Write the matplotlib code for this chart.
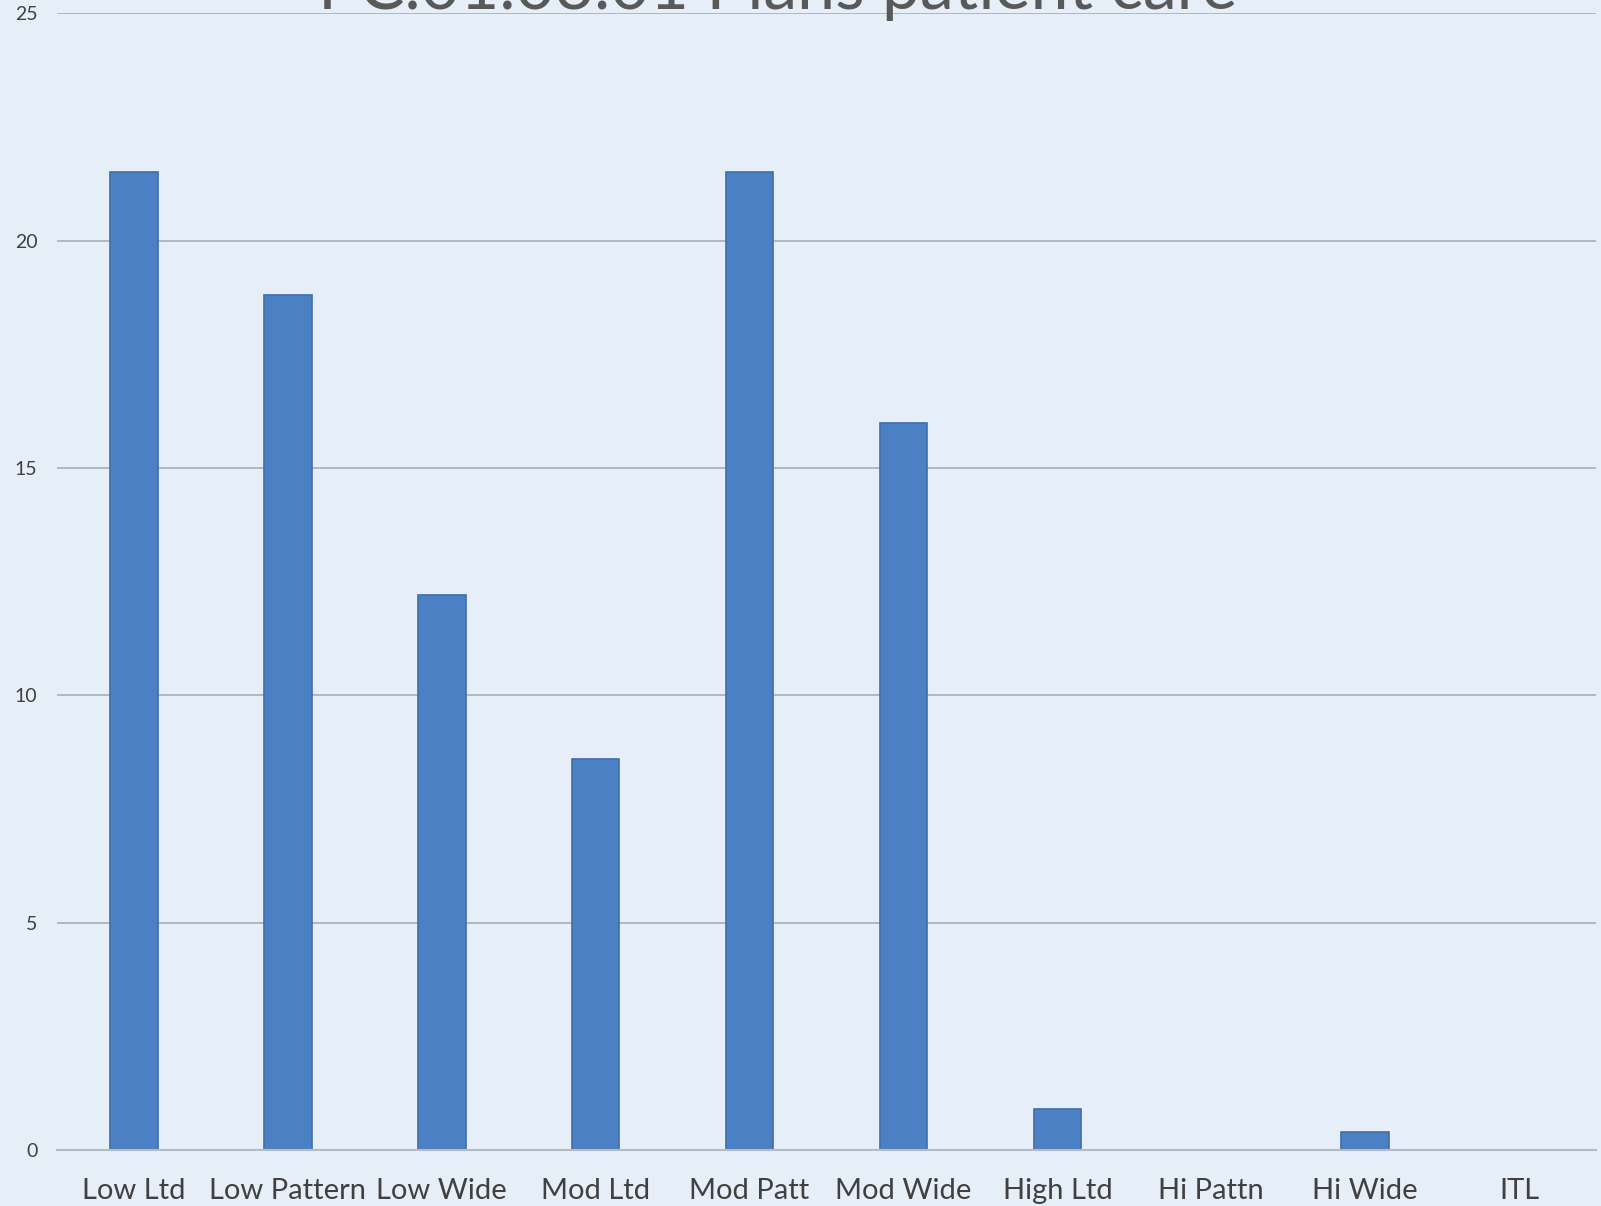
import matplotlib.pyplot as plt

# categories and values (percent)
categories = ['Low Ltd', 'Low Pattern', 'Low Wide', 'Mod Ltd', 'Mod Patt',
              'Mod Wide', 'High Ltd', 'Hi Pattn', 'Hi Wide', 'ITL']
values = [21.5, 18.8, 12.2, 8.6, 21.5, 16.0, 0.9, 0.0, 0.4, 0.0]
yticks = [0, 5, 10, 15, 20, 25]

bg = '#E6EEF8'
plt.rcParams['font.family'] = ['Lato', 'DejaVu Sans']

fig = plt.figure(figsize=(16.01, 12.06), dpi=100, facecolor=bg)
ax = fig.add_axes([0.0355, 0.0464, 0.9615, 0.9426], facecolor=bg)

x = range(len(categories))
ax.bar(x, values, width=0.31, color='#4C80C4', edgecolor='#3F6FA8',
       linewidth=1.2, zorder=3)

ax.set_xlim(-0.5, len(categories) - 0.5)
ax.set_ylim(0, 25)
ax.set_yticks(yticks)
ax.set_xticks(list(x))
ax.set_xticklabels(categories)
ax.grid(axis='y', color='#A9AEB5', linewidth=1.2, zorder=0)
ax.set_axisbelow(True)

for s in ['top', 'right', 'left']:
    ax.spines[s].set_visible(False)
ax.spines['bottom'].set_color('#B5BBC3')
ax.spines['bottom'].set_linewidth(1.5)
ax.spines['bottom'].set_zorder(4)

ax.tick_params(axis='x', length=0, pad=20, labelsize=21, labelcolor='#404040')
ax.tick_params(axis='y', length=0, pad=14, labelsize=14, labelcolor='#404040')

# title sits partly above the top edge
fig.text(0.486, 1 - 9 / 1206, 'PC.01.03.01 Plans patient care',
         ha='center', va='baseline', fontsize=49, color='#595959')

fig.savefig('out.png', dpi=100, facecolor=bg)
